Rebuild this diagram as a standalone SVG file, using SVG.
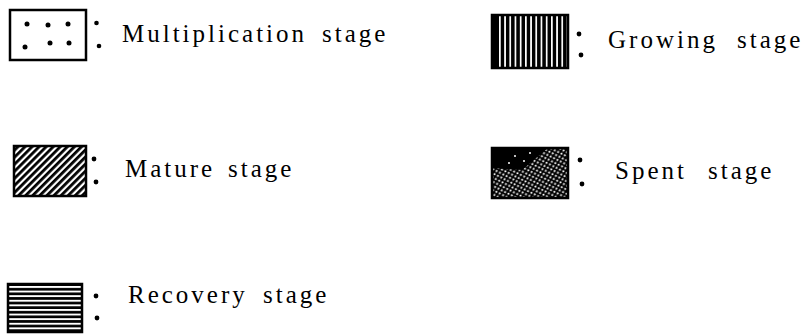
<svg xmlns="http://www.w3.org/2000/svg" width="807" height="334" viewBox="0 0 807 334">
<style>
.lbl{font-family:"Liberation Serif","Times New Roman",serif;font-size:25px;letter-spacing:3px;fill:#000}
.box{stroke:#000;stroke-width:2.5}
.dot{fill:#000}
</style>
<defs>
<pattern id="vstripe" patternUnits="userSpaceOnUse" x="499" y="0" width="5.2" height="10">
<rect x="0" y="0" width="5.2" height="10" fill="#000"/>
<rect x="0" y="0" width="1.7" height="10" fill="#fff"/>
</pattern>
<pattern id="hstripe" patternUnits="userSpaceOnUse" x="0" y="286" width="10" height="4.6">
<rect x="0" y="0" width="10" height="4.6" fill="#000"/>
<rect x="0" y="0" width="10" height="1.9" fill="#fff"/>
</pattern>
<pattern id="diag" patternUnits="userSpaceOnUse" width="10" height="5" patternTransform="rotate(-45)">
<rect x="0" y="0" width="10" height="5" fill="#fff"/>
<rect x="0" y="0" width="10" height="2.8" fill="#000"/>
</pattern>
<pattern id="dots" patternUnits="userSpaceOnUse" width="5.6" height="5" patternTransform="rotate(-15)">
<rect x="0" y="0" width="5.6" height="5" fill="#000"/>
<circle cx="1.4" cy="1.25" r="1.1" fill="#fff"/>
<circle cx="4.2" cy="3.75" r="1.1" fill="#fff"/>
</pattern>
</defs>

<g id="multiplication">
<rect class="box" x="10" y="10" width="76" height="50" fill="#fff"/>
<circle class="dot" cx="27" cy="24" r="2.5"/>
<circle class="dot" cx="48" cy="25" r="2.5"/>
<circle class="dot" cx="68" cy="24" r="2.5"/>
<circle class="dot" cx="25" cy="47" r="2.5"/>
<circle class="dot" cx="50" cy="43" r="2.5"/>
<circle class="dot" cx="69" cy="43" r="2.5"/>
<circle class="dot" cx="96.5" cy="23" r="2.3"/>
<circle class="dot" cx="99" cy="46" r="2.3"/>
<text class="lbl" y="42"><tspan x="122">Multiplication</tspan><tspan x="322">stage</tspan></text>
</g>

<g id="growing">
<rect class="box" x="492" y="15" width="76" height="53" fill="url(#vstripe)"/>
<rect x="492" y="15" width="7" height="53" fill="#000"/>
<circle class="dot" cx="579" cy="34" r="2.4"/>
<circle class="dot" cx="581" cy="55" r="2.4"/>
<text class="lbl" y="48"><tspan x="608">Growing</tspan><tspan x="737">stage</tspan></text>
</g>

<g id="mature">
<rect class="box" x="14" y="146" width="72" height="50" fill="url(#diag)"/>
<circle class="dot" cx="94" cy="159" r="2.4"/>
<circle class="dot" cx="96" cy="182" r="2.4"/>
<text class="lbl" y="177"><tspan x="125">Mature</tspan><tspan x="228">stage</tspan></text>
</g>

<g id="spent">
<rect class="box" x="492" y="148" width="76" height="50" fill="url(#dots)"/>
<polygon points="492,148 548,148 522,170 492,168" fill="#000"/>
<circle cx="515" cy="156" r="1" fill="#fff"/>
<circle cx="524" cy="161" r="1" fill="#fff"/>
<circle cx="509" cy="163" r="1" fill="#fff"/>
<circle cx="530" cy="153" r="1" fill="#fff"/>
<circle cx="580" cy="160" r="2.4"/>
<circle cx="582" cy="184" r="2.4"/>
<text class="lbl" y="179"><tspan x="615">Spent</tspan><tspan x="708">stage</tspan></text>
</g>

<g id="recovery">
<rect class="box" x="8" y="284" width="74" height="48" fill="url(#hstripe)"/>
<circle class="dot" cx="96" cy="296" r="2.4"/>
<circle class="dot" cx="97" cy="318" r="2.4"/>
<text class="lbl" y="303"><tspan x="128">Recovery</tspan><tspan x="263">stage</tspan></text>
</g>
</svg>
